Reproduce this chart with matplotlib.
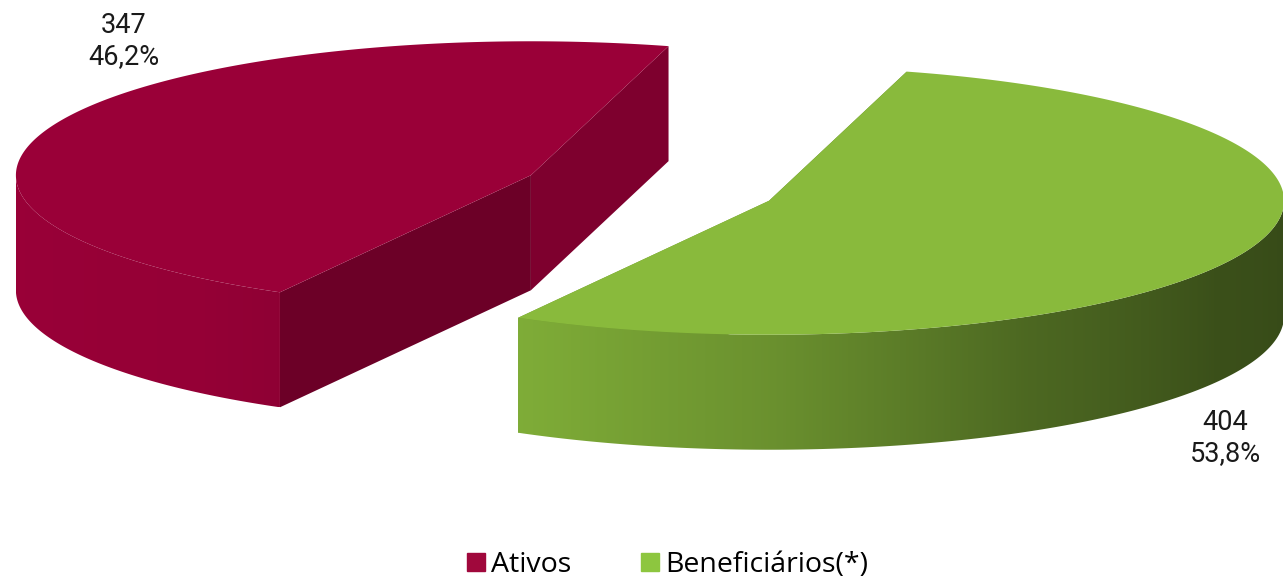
import numpy as np
import matplotlib.pyplot as plt
from matplotlib.patches import Polygon
from matplotlib.lines import Line2D
from matplotlib.colors import to_rgb

# dados
categorias = ['Ativos', 'Beneficiários(*)']
valores = [347, 404]
cores_topo = ['#9A0038', '#89BA3C']
cores_legenda = ['#A0083C', '#8DC63F']

# geometria da pizza 3D (em pixels da figura)
W, H = 1283, 581
cx, cy = 650, 188
rx, ry = 515, 134
prof = 115
explode = 0.25
inicio = 74.5

fig = plt.figure(figsize=(W / 100, H / 100), dpi=100)
ax = fig.add_axes([0, 0, 1, 1])
ax.set_xlim(0, W)
ax.set_ylim(H, 0)
ax.axis('off')

total = sum(valores)
fracoes = [v / total for v in valores]


def sombra(cor, f):
    r, g, b = to_rgb(cor)
    return (r * f, g * f, b * f)


def luz_parede(t):
    t = t % 360
    return np.interp(t, [180, 230, 245, 270, 300, 330, 360],
                     [1.0, 0.97, 0.91, 0.78, 0.56, 0.43, 0.40])


a0 = inicio
for i, frac in enumerate(fracoes):
    a1 = a0 + frac * 360
    meio = np.radians((a0 + a1) / 2)
    px = cx + explode * rx * np.cos(meio)
    py = cy - explode * ry * np.sin(meio)

    def ponto(t):
        tr = np.radians(t)
        return px + rx * np.cos(tr), py - ry * np.sin(tr)

    # paredes radiais (corte)
    f_rad = [0.82, 0.70]
    for k, a in enumerate([a0, a1]):
        x1, y1 = ponto(a)
        quad = [(px, py), (x1, y1), (x1, y1 + prof), (px, py + prof)]
        ax.add_patch(Polygon(quad, closed=True, facecolor=sombra(cores_topo[i], f_rad[k]),
                             edgecolor='none'))

    # parede externa (parte da frente), com gradiente recortado
    ts = np.linspace(a0, a1, 600)
    frente = ts[np.sin(np.radians(ts)) <= 0]
    if len(frente) > 1:
        xs, ys = ponto(frente)
        contorno = list(zip(xs, ys)) + list(zip(xs[::-1], ys[::-1] + prof))
        parede = Polygon(contorno, closed=True, facecolor='none', edgecolor='none')
        ax.add_patch(parede)
        xg = np.linspace(xs.min(), xs.max(), 400)
        tg = 360 - np.degrees(np.arccos(np.clip((xg - px) / rx, -1, 1)))
        faixa = np.array([sombra(cores_topo[i], luz_parede(t)) for t in tg])[None, :, :]
        im = ax.imshow(faixa, extent=(xs.min(), xs.max(), ys.max() + prof, ys.min()),
                       aspect='auto', interpolation='bilinear', zorder=1)
        im.set_clip_path(parede)

    # topo
    tt = np.linspace(a0, a1, 300)
    xs, ys = ponto(tt)
    topo = [(px, py)] + list(zip(xs, ys))
    ax.add_patch(Polygon(topo, closed=True, facecolor=cores_topo[i], edgecolor='none',
                         zorder=2))

    a0 = a1

ax.set_xlim(0, W)
ax.set_ylim(H, 0)

# rótulos
fonte_rot = ['Roboto', 'DejaVu Sans']
pos_rot = [(124, 41), (1225, 438)]
for v, fr, (x, y) in zip(valores, fracoes, pos_rot):
    txt = f"{v}\n{fr * 100:.1f}%".replace('.', ',')
    ax.text(x, y, txt, ha='center', va='center', fontsize=19.5, family=fonte_rot,
            linespacing=1.15, color='#1a1a1a', zorder=5)

# legenda
alcas = [Line2D([], [], marker='s', linestyle='none', markersize=12.5, color=c)
         for c in cores_legenda]
fig.legend(alcas, categorias, loc='center', bbox_to_anchor=(0.52, 0.027),
           ncol=2, frameon=False, handlelength=0.7, handletextpad=0.2, columnspacing=2.4,
           prop={'family': ['Open Sans', 'DejaVu Sans'], 'size': 20.5})

fig.savefig('out.png', dpi=100)
